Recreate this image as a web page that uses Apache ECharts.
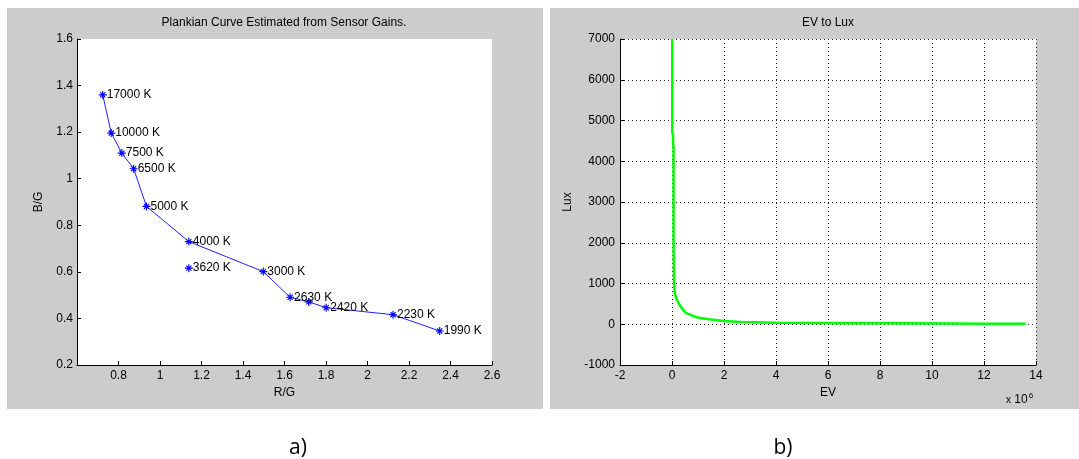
<!DOCTYPE html>
<html>
<head>
<meta charset="utf-8">
<script src="https://cdn.jsdelivr.net/npm/echarts@6/dist/echarts.min.js"></script>
<style>
  html, body { margin: 0; padding: 0; background: #fff; }
  #chart { width: 1079px; height: 459px; }
</style>
</head>
<body>
<div id="chart"></div>
<script>
// a) Plankian curve: R/G, B/G per colour temperature
const temps = ['17000 K', '10000 K', '7500 K', '6500 K', '5000 K', '4000 K', '3000 K', '2630 K', '', '2420 K', '2230 K', '1990 K'];
const rg = [0.724, 0.765, 0.816, 0.873, 0.935, 1.139, 1.498, 1.627, 1.717, 1.801, 2.123, 2.348];
const bg = [1.36, 1.196, 1.11, 1.043, 0.881, 0.73, 0.601, 0.491, 0.471, 0.446, 0.416, 0.346];
// the lone point off the curve
const loneTemp = ['3620 K'];
const loneRg = [1.139];
const loneBg = [0.616];

// b) EV to Lux, EV in units of 10^6
const ev = [0.01, 0.01, 0.04, 0.04, 0.06, 0.06, 0.08, 0.11, 0.19, 0.34, 0.53, 0.98, 1.49, 2.0, 2.64, 4.0, 5.5, 6.85, 8.5, 10.7, 12.0, 13.6];
const lux = [7000, 4700, 4650, 4400, 4350, 1900, 1000, 750, 590, 426, 279, 164, 115, 82, 57, 38, 33, 27, 24, 20, 15, 12];

const FONT = '"Liberation Sans", Arial, sans-serif';
const STAR = 'path://M0,43L100,43L100,57L0,57Z M43,0L57,0L57,100L43,100Z M23,13L87,77L77,87L13,23Z M77,13L87,23L23,87L13,77Z';

const tickLabel = { color: '#000', fontSize: 12, fontFamily: FONT, formatter: v => String(v) };
const axisName = { color: '#000', fontSize: 12, fontFamily: FONT };
const blackLine = { onZero: false, lineStyle: { color: '#000', width: 1 } };
const ticks = { inside: true, length: 4, lineStyle: { color: '#000' } };
const dotted = { show: true, lineStyle: { color: '#222', type: [1, 3], width: 1 } };

const chart = echarts.init(document.getElementById('chart'));

const pointLabel = {
  show: true,
  position: 'right',
  distance: 0,
  color: '#000',
  fontSize: 12,
  fontFamily: FONT
};

const option = {
  animation: false,
  backgroundColor: '#fff',
  title: [
    { text: 'Plankian Curve Estimated from Sensor Gains.', left: 284, top: 17, textAlign: 'center', padding: 0,
      textStyle: { color: '#000', fontSize: 12, fontWeight: 'normal', fontFamily: FONT } },
    { text: 'EV to Lux', left: 828, top: 17, textAlign: 'center', padding: 0,
      textStyle: { color: '#000', fontSize: 12, fontWeight: 'normal', fontFamily: FONT } }
  ],
  graphic: [
    { type: 'rect', z: -10, shape: { x: 7, y: 8, width: 536, height: 401 }, style: { fill: '#cccccc' } },
    { type: 'rect', z: -10, shape: { x: 550, y: 8, width: 529, height: 401 }, style: { fill: '#cccccc' } },
    { type: 'text', x: 1006, y: 400, style: {
        text: '{x|x} 10{s|6}', fill: '#000', font: '12px ' + FONT, verticalAlign: 'middle',
        rich: { x: { fontSize: 10, fontFamily: FONT }, s: { fontSize: 8, fontFamily: FONT, verticalAlign: 'top', padding: [0, 0, 8, 1] } }
    } },
    { type: 'text', x: 298, y: 448, style: { text: 'a)', fill: '#000', font: '21px "Open Sans", sans-serif', align: 'center', verticalAlign: 'middle' } },
    { type: 'text', x: 783, y: 448, style: { text: 'b)', fill: '#000', font: '21px "Open Sans", sans-serif', align: 'center', verticalAlign: 'middle' } }
  ],
  grid: [
    { left: 77, top: 39, width: 415, height: 326, show: true, backgroundColor: '#fff', borderWidth: 0, outerBoundsMode: 'none' },
    { left: 620, top: 39, width: 416, height: 326, show: true, backgroundColor: '#fff', borderWidth: 0, outerBoundsMode: 'none' }
  ],
  xAxis: [
    {
      gridIndex: 0, type: 'value', min: 0.6, max: 2.6, interval: 0.2,
      name: 'R/G', nameLocation: 'middle', nameGap: 20, nameTextStyle: axisName,
      axisLine: blackLine, axisTick: ticks,
      axisLabel: Object.assign({ margin: 5, showMinLabel: false }, tickLabel),
      splitLine: { show: false }
    },
    {
      gridIndex: 1, type: 'value', min: -2, max: 14, interval: 2,
      name: 'EV', nameLocation: 'middle', nameGap: 20, nameTextStyle: axisName,
      axisLine: blackLine, axisTick: ticks,
      axisLabel: Object.assign({ margin: 5 }, tickLabel),
      splitLine: dotted
    }
  ],
  yAxis: [
    {
      gridIndex: 0, type: 'value', min: 0.2, max: 1.6, interval: 0.2,
      name: 'B/G', nameLocation: 'middle', nameGap: 32, nameRotate: 90, nameTextStyle: axisName,
      axisLine: blackLine, axisTick: ticks,
      axisLabel: Object.assign({ margin: 4 }, tickLabel),
      splitLine: { show: false }
    },
    {
      gridIndex: 1, type: 'value', min: -1000, max: 7000, interval: 1000,
      name: 'Lux', nameLocation: 'middle', nameGap: 46, nameRotate: 90, nameTextStyle: axisName,
      axisLine: blackLine, axisTick: ticks,
      axisLabel: Object.assign({ margin: 5 }, tickLabel),
      splitLine: dotted
    }
  ],
  series: [
    {
      type: 'line', xAxisIndex: 0, yAxisIndex: 0,
      data: rg.map((x, i) => [x, bg[i]]),
      symbol: STAR, symbolSize: 8,
      itemStyle: { color: '#0000ff', opacity: 1 },
      lineStyle: { color: '#2020ff', width: 1 },
      label: Object.assign({ formatter: p => temps[p.dataIndex] }, pointLabel)
    },
    {
      type: 'scatter', xAxisIndex: 0, yAxisIndex: 0,
      data: loneRg.map((x, i) => [x, loneBg[i]]),
      symbol: STAR, symbolSize: 8,
      itemStyle: { color: '#0000ff', opacity: 1 },
      label: Object.assign({ formatter: p => loneTemp[p.dataIndex] }, pointLabel)
    },
    {
      type: 'line', xAxisIndex: 1, yAxisIndex: 1,
      data: ev.map((x, i) => [x, lux[i]]),
      symbol: 'none',
      lineStyle: { color: '#00ff00', width: 2.5 }
    }
  ]
};

option && chart.setOption(option);
</script>
</body>
</html>
